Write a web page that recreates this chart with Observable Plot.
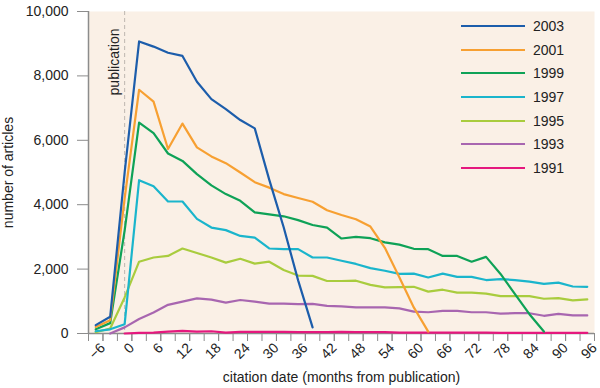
<!DOCTYPE html>
<html><head><meta charset="utf-8">
<script src="https://cdn.jsdelivr.net/npm/d3@7"></script>
<script src="https://cdn.jsdelivr.net/npm/@observablehq/plot@0.6"></script>
<style>
body{margin:0;background:#fff;}
#wrap{position:relative;width:600px;height:388px;font-family:"Liberation Sans",Arial,Helvetica,sans-serif;}
#legend{position:absolute;left:461px;top:14px;}
.row{display:flex;align-items:center;height:23.7px;font-size:14px;color:#222;}
.row .sw{display:inline-block;width:64px;height:2px;margin-right:8px;}
</style></head><body><div id="wrap"></div>
<script>
// bin midpoints (months from publication)
const months = [-7.5,-4.5,-1.5,1.5,4.5,7.5,10.5,13.5,16.5,19.5,22.5,25.5,28.5,31.5,34.5,37.5,40.5,43.5,46.5,49.5,52.5,55.5,58.5,61.5,64.5,67.5,70.5,73.5,76.5,79.5,82.5,85.5,88.5,91.5,94.5];
const years = ["2003","2001","1999","1997","1995","1993","1991"];
const colors = ["#1c5dab","#f7a032","#0ea257","#1ab5cc","#a9cc3e","#a866b0","#e5187e"];
const y2003 = [260,518,5000,9070,8910,8720,8620,7820,7280,6970,6630,6370,4780,3300,1650,190];
const y2001 = [200,415,4200,7570,7200,5730,6520,5780,5500,5290,5000,4700,4530,4330,4210,4090,3830,3680,3550,3320,2660,1750,810,60];
const y1999 = [130,322,3200,6550,6220,5590,5360,4950,4600,4330,4120,3760,3700,3640,3520,3370,3290,2950,3000,2960,2830,2760,2630,2620,2410,2410,2230,2380,1850,1220,600,60];
const y1997 = [70,130,290,4760,4570,4100,4100,3560,3290,3210,3030,2980,2640,2620,2620,2360,2360,2260,2160,2030,1950,1850,1860,1740,1860,1760,1760,1660,1690,1660,1610,1540,1580,1460,1450];
const y1995 = [40,155,1120,2230,2360,2410,2640,2500,2360,2200,2320,2170,2230,1970,1800,1790,1630,1630,1640,1510,1430,1440,1450,1300,1360,1270,1270,1240,1160,1160,1160,1080,1100,1030,1060];
const y1993 = [null,0,190,450,650,890,990,1090,1050,960,1040,990,930,930,910,920,860,840,810,810,810,780,680,660,700,700,660,660,620,630,630,550,610,560,560];
const y1991 = [null,null,0,20,30,60,80,60,70,30,50,50,50,50,40,40,40,50,40,40,40,30,30,30,30,30,30,30,20,20,20,20,20,20,20];
const xTickLabels = [-6,0,6,12,18,24,30,36,42,48,54,60,66,72,78,84,90,96];
const xMinorTicks = [-9,-6,-3,0,3,6,9,12,15,18,21,24,27,30,33,36,39,42,45,48,51,54,57,60,63,66,69,72,75,78,81,84,87,90,93,96];
const yTicks = [0,2000,4000,6000,8000,10000];
const pubMonth = -1.5;

const seriesByYear = {"2003": y2003, "2001": y2001, "1999": y1999, "1997": y1997, "1995": y1995, "1993": y1993, "1991": y1991};
const rows = [];
for (const yr of years.slice().reverse()) {
  seriesByYear[yr].forEach((v, i) => { if (v != null) rows.push({month: months[i], value: v, year: yr}); });
}

const axisColor = "#8c8c8c";
const plot = Plot.plot({
  width: 600, height: 388,
  marginLeft: 88, marginRight: 6, marginTop: 11, marginBottom: 55,
  style: {fontFamily: '"Liberation Sans", Arial, Helvetica, sans-serif', fontSize: "14px", color: "#222", background: "transparent"},
  x: {domain: [-9, 96]},
  y: {domain: [0, 10000]},
  color: {domain: years, range: colors},
  marks: [
    Plot.frame({fill: "#faf0e6", stroke: null}),
    Plot.ruleX([pubMonth], {stroke: "#bdb6af", strokeDasharray: "4,3"}),
    Plot.text(["publication"], {x: () => pubMonth, y: () => 10000, text: d => d, rotate: -90, textAnchor: "end", lineAnchor: "middle", dx: -10.5, dy: 17, fontSize: 14, fill: "#222"}),
    Plot.axisY({ticks: yTicks, tickSize: 11, tickPadding: 9, tickFormat: d3.format(","), stroke: axisColor, label: "number of articles", labelAnchor: "center", labelOffset: 85, labelArrow: "none"}),
    Plot.axisX({ticks: xMinorTicks, tickSize: 8, tickFormat: () => "", stroke: axisColor, label: null}),
    Plot.axisX({ticks: xTickLabels, tickSize: 8, tickPadding: 4, tickRotate: -45, stroke: axisColor, label: "citation date (months from publication)", labelAnchor: "center", labelOffset: 48, labelArrow: "none"}),
    Plot.ruleX([-9], {stroke: axisColor, strokeWidth: 1.5}),
    Plot.ruleY([0], {stroke: axisColor, strokeWidth: 1.5}),
    Plot.line(rows, {x: "month", y: "value", z: "year", stroke: "year", strokeWidth: 2.2})
  ]
});
const wrap = document.getElementById("wrap");
wrap.appendChild(plot);
const legend = document.createElement("div");
legend.id = "legend";
years.forEach((yr, i) => {
  const r = document.createElement("div");
  r.className = "row";
  const sw = document.createElement("span");
  sw.className = "sw";
  sw.style.background = colors[i];
  const t = document.createElement("span");
  t.textContent = yr;
  r.appendChild(sw); r.appendChild(t);
  legend.appendChild(r);
});
wrap.appendChild(legend);
</script></body></html>
